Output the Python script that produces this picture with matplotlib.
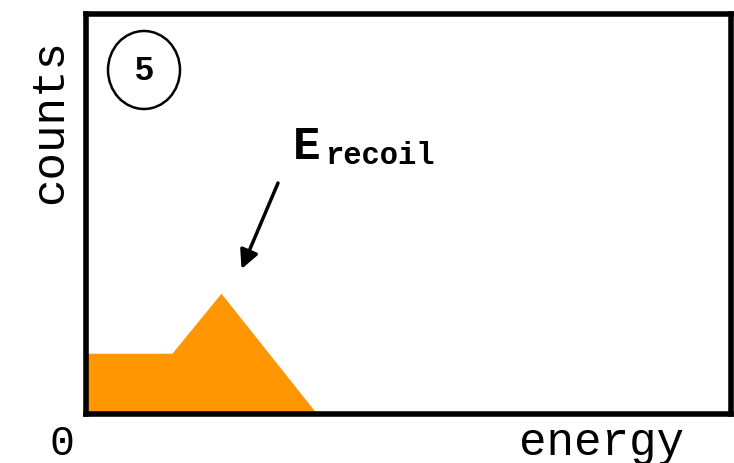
import matplotlib
matplotlib.use("Agg")
import matplotlib.pyplot as plt
from matplotlib.patches import Ellipse

# data (axes units 0..1)
energy = [0.0, 0.134, 0.210, 0.359]
counts = [0.152, 0.152, 0.302, 0.0]
x_label = "energy"
y_label = "counts"
origin_label = "0"
panel_number = "5"
peak_label_main = "E"
peak_label_sub = "recoil"

W, H = 734, 464
fig = plt.figure(figsize=(W / 100, H / 100), dpi=100)
L, R, T, B = 85.5, 730.5, 15, 415
ax = fig.add_axes([L / W, (H - B) / H, (R - L) / W, (B - T) / H])
ax.set_xlim(0, 1)
ax.set_ylim(0, 1)
ax.set_xticks([])
ax.set_yticks([])
for s in ax.spines.values():
    s.set_linewidth(4.0)
    s.set_color("black")

ax.fill_between(energy, counts, 0, color="#FF9602", lw=0, zorder=1)

mono = "Liberation Mono"

def fx(px):
    return px / W

def fy(py):
    return (H - py) / H

fig.text(fx(62.5), fy(455), origin_label, family=mono, fontsize=30,
         ha="center", va="baseline")
fig.text(fx(601), fy(455), x_label, family=mono, fontsize=33,
         ha="center", va="baseline")
fig.text(fx(50), fy(122), y_label, family=mono, fontsize=33,
         ha="center", va="center", rotation=90)

# circled panel number
ell = Ellipse((fx(144), fy(71)), 72 / W, 78 / H, transform=fig.transFigure,
              fill=False, lw=1.8, edgecolor="black")
fig.add_artist(ell)
fig.text(fx(144.5), fy(72), panel_number, family="Liberation Sans",
         fontweight="bold", fontsize=24, ha="center", va="center")

# E_recoil label
fig.text(fx(293), fy(159), peak_label_main, family=mono, fontweight="bold",
         fontsize=33, ha="left", va="baseline")
fig.text(fx(325), fy(164), peak_label_sub, family=mono, fontweight="bold",
         fontsize=22, ha="left", va="baseline")

ax.annotate("", xy=(fx(241.5), fy(270)), xycoords="figure fraction",
            xytext=(fx(278), fy(184)), textcoords="figure fraction",
            arrowprops=dict(arrowstyle="-|>", lw=2.5, color="black",
                            mutation_scale=28, shrinkA=0, shrinkB=0))

fig.savefig("out.png", dpi=100)
